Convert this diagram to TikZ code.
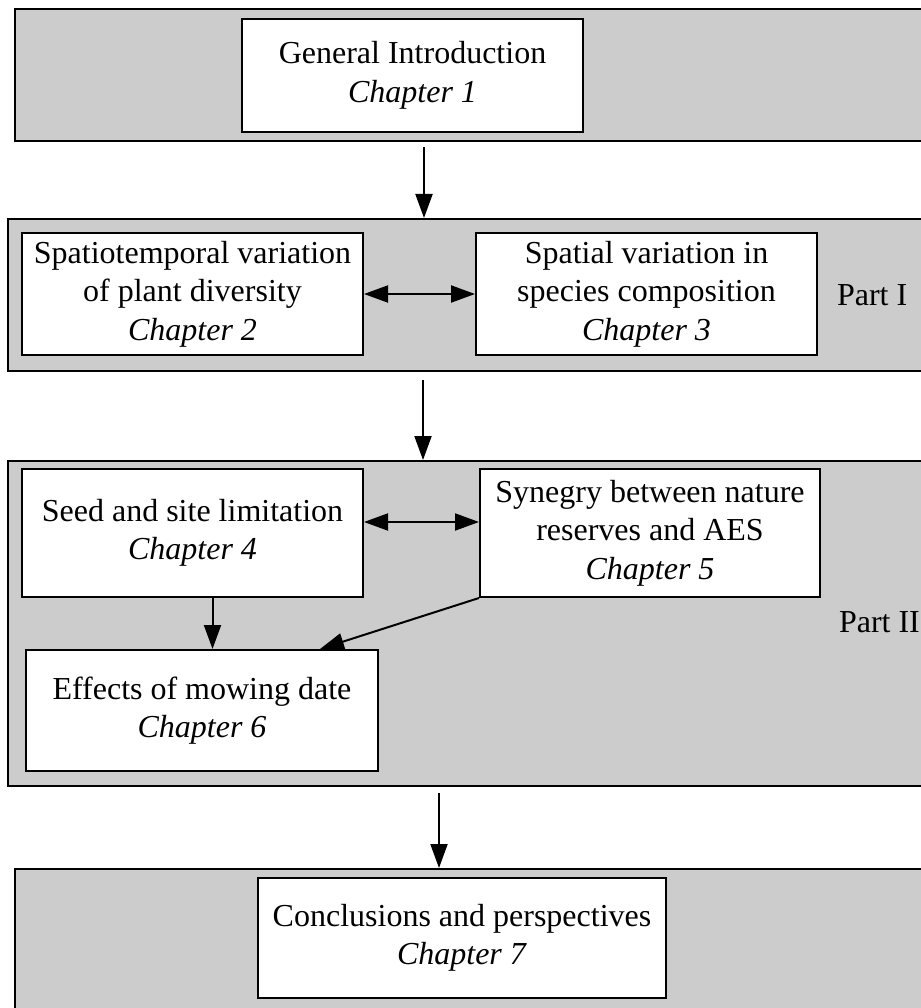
\documentclass[tikz,border=0pt]{standalone}
\usepackage{fontspec}
\setmainfont{Liberation Serif}
\usetikzlibrary{arrows.meta}
\begin{document}
\begin{tikzpicture}[x=1pt, y=-1pt, line width=2pt,
    panel/.style={draw, rectangle, fill=black!20, inner sep=0pt},
    chap/.style={draw, rectangle, fill=white, align=center, inner sep=0pt},
    arr/.style={-{Triangle[length=24pt,width=17pt]}},
    dblarr/.style={{Triangle[length=24pt,width=17pt]}-{Triangle[length=24pt,width=17pt]}},
    font=\fontsize{32}{38.5}\selectfont]
    \useasboundingbox (0,0) rectangle (920,1008);

    % Grey bands
    \node[panel, minimum width=925pt, minimum height=132pt] (intro) at (477.5,75) {};
    \node[panel, minimum width=932pt, minimum height=152pt] (part1) at (474,295) {};
    \node[panel, minimum width=932pt, minimum height=325pt] (part2) at (474,623.5) {};
    \node[panel, minimum width=925pt, minimum height=161pt] (concl) at (477.5,949.5) {};

    % Chapters
    \node[chap, minimum width=341pt, minimum height=113pt] (ch1) at (412.5,75.5) {General Introduction\\\textit{Chapter 1}};
    \node[chap, minimum width=341pt, minimum height=122pt] (ch2) at (192.5,294) {Spatiotemporal variation\\of plant diversity\\\textit{Chapter 2}};
    \node[chap, minimum width=341pt, minimum height=122pt] (ch3) at (646.5,294) {Spatial variation in\\species composition\\\textit{Chapter 3}};
    \node[chap, minimum width=341pt, minimum height=128pt] (ch4) at (192.5,533) {Seed and site limitation\\\textit{Chapter 4}};
    \node[chap, minimum width=340pt, minimum height=128pt] (ch5) at (650,533) {Synegry between nature\\reserves and AES\\\textit{Chapter 5}};
    \node[chap, minimum width=352pt, minimum height=121pt] (ch6) at (202,710.5) {Effects of mowing date\\\textit{Chapter 6}};
    \node[chap, minimum width=408pt, minimum height=120pt] (ch7) at (462,938) {Conclusions and perspectives\\\textit{Chapter 7}};

    % Part labels
    \node[anchor=west, inner sep=0pt] (lab1) at (836,295) {Part I};
    \node[anchor=west, inner sep=0pt] (lab2) at (838,622) {Part II};

    % Flow between bands
    \coordinate (s1) at (424,147);
    \coordinate (s2) at (423,380);
    \coordinate (s3) at (439,793);
    \draw[arr] (s1) -- (s1 |- part1.north);
    \draw[arr] (s2) -- (s2 |- part2.north);
    \draw[arr] (s3) -- (s3 |- concl.north);

    % Links inside the parts
    \draw[dblarr] (ch2) -- (ch3);
    \draw[dblarr] ([yshift=11pt]ch4.east) -- ([yshift=11pt]ch5.west);
    \draw[arr] ([xshift=20pt]ch4.south) -- ([xshift=20pt]ch4.south |- ch6.north);
    \draw[arr] (ch5.south west) -- ([xshift=118pt]ch6.north);
\end{tikzpicture}
\end{document}
